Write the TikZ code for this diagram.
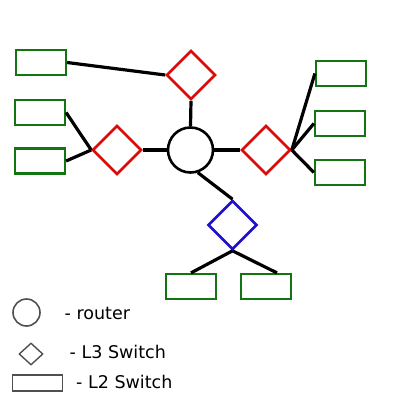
\documentclass[tikz,border=0pt]{standalone}
\usepackage{fontspec}
\setmainfont{DejaVu Sans}
\usetikzlibrary{shapes.geometric}
\definecolor{swred}{HTML}{DD0A0A}
\definecolor{swgreen}{HTML}{127512}
\definecolor{swblue}{HTML}{1E10CC}
\definecolor{leggray}{HTML}{505050}
\tikzset{
  l2box/.style={draw=swgreen, line width=2.2pt, rectangle, minimum width=50pt, minimum height=25pt, inner sep=0pt},
  l3sw/.style={draw=#1, line width=2.6pt, diamond, minimum width=49pt, minimum height=49pt, inner sep=0pt},
  rtr/.style={draw=black, line width=2.6pt, circle, minimum size=45pt, inner sep=0pt},
  link/.style={draw=black, line width=3.2pt},
  legtext/.style={anchor=base west, inner sep=0pt, font=\fontsize{17.5}{20}\selectfont},
}
\begin{document}
\begin{tikzpicture}[x=1pt,y=-1pt]
\useasboundingbox (0,0) rectangle (400,400);
% router
\node[rtr] (router) at (190.5,150) {};
% L3 switches
\node[l3sw=swred] (dtop) at (191,75) {};
\node[l3sw=swred] (dleft) at (117,150) {};
\node[l3sw=swred] (dright) at (266,150) {};
\node[l3sw=swblue] (dblue) at (232.5,225) {};
% L2 switches
\node[l2box] (r1) at (41,62.5) {};
\node[l2box] (r2) at (40,112.5) {};
\node[l2box] (r3) at (40,161) {};
\node[l2box] (r4) at (341,73.5) {};
\node[l2box] (r5) at (340,123.5) {};
\node[l2box] (r6) at (340,172.5) {};
\node[l2box] (r7) at (191,286.5) {};
\node[l2box] (r8) at (266,286.5) {};
% links
\draw[link] (r1.east) -- (dtop.west);
\draw[link] (dtop.south) -- (router.north);
\draw[link] (dleft.east) -- (router.west);
\draw[link] (router.east) -- (dright.west);
\draw[link] (r2.east) -- (dleft.west);
\draw[link] (r3.east) -- (dleft.west);
\draw[link] (dright.east) -- (r4.west);
\draw[link] (dright.east) -- (r5.west);
\draw[link] (dright.east) -- (r6.west);
\draw[link] (router.-72) -- (dblue.north);
\draw[link] (dblue.south) -- (r7.north);
\draw[link] (dblue.south) -- (r8.51);
% legend
\node[draw=leggray, line width=1.6pt, circle, minimum size=27pt, inner sep=0pt] (lcirc) at (26.5,312.5) {};
\node[draw=leggray, line width=1.4pt, diamond, minimum width=24pt, minimum height=22pt, inner sep=0pt] (ldia) at (31,354) {};
\node[draw=leggray, line width=1.4pt, rectangle, minimum width=50pt, minimum height=16pt, inner sep=0pt] (lrect) at (37.5,383) {};
\node[legtext] (t1) at (64.5,319) {- router};
\node[legtext] (t2) at (69.5,358.5) {- L3 Switch};
\node[legtext] (t3) at (76,388.5) {- L2 Switch};
\end{tikzpicture}
\end{document}
